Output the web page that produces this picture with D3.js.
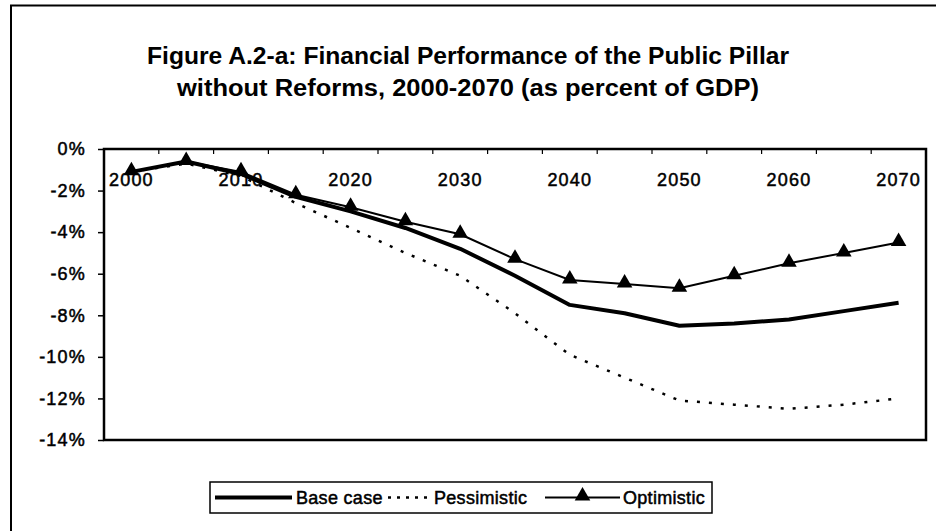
<!DOCTYPE html>
<html>
<head>
<meta charset="utf-8">
<script src="https://cdn.jsdelivr.net/npm/d3@7"></script>
<style>
  body { margin: 0; background: #fff; }
  svg { display: block; font-family: "Liberation Sans", Arial, sans-serif; }
</style>
</head>
<body>
<div id="chart"></div>
<script>
// data (percent of GDP)
const years = [2000, 2005, 2010, 2015, 2020, 2025, 2030, 2035, 2040, 2045, 2050, 2055, 2060, 2065, 2070];
const baseCase = [-1.1, -0.6, -1.2, -2.3, -3.0, -3.8, -4.8, -6.1, -7.5, -7.9, -8.5, -8.4, -8.2, -7.8, -7.4];
const pessimistic = [-1.1, -0.7, -1.3, -2.6, -3.8, -5.0, -6.1, -7.9, -9.9, -11.0, -12.1, -12.3, -12.5, -12.3, -12.0];
const optimistic = [-1.1, -0.6, -1.1, -2.2, -2.8, -3.5, -4.1, -5.3, -6.3, -6.5, -6.7, -6.1, -5.5, -5.0, -4.5];
const yTicks = [0, -2, -4, -6, -8, -10, -12, -14];
const xLabels = [2000, 2010, 2020, 2030, 2040, 2050, 2060, 2070];
const titleLines = [
  "Figure A.2-a: Financial Performance of the Public Pillar",
  "without Reforms, 2000-2070 (as percent of GDP)"
];
const legendNames = ["Base case", "Pessimistic", "Optimistic"];

const W = 936, H = 531;
const plot = {left: 104, top: 149, right: 926, bottom: 440};
const ink = "#000";

const svg = d3.select("#chart").append("svg")
  .attr("width", W).attr("height", H);

// outer frame (only top and left edges show in the scan)
svg.append("path")
  .attr("d", `M11,${H} V5.5 H${W}`)
  .attr("fill", "none").attr("stroke", ink).attr("stroke-width", 2);

// title
const titleWidths = [642, 582];
svg.selectAll("text.title")
  .data(titleLines)
  .enter().append("text")
  .attr("class", "title")
  .attr("x", 468)
  .attr("y", (d, i) => 64 + i * 32)
  .attr("text-anchor", "middle")
  .attr("font-size", 23)
  .attr("font-weight", "bold")
  .attr("textLength", (d, i) => titleWidths[i])
  .attr("lengthAdjust", "spacingAndGlyphs")
  .text(d => d);

const x = d3.scaleBand().domain(years).range([plot.left, plot.right]);
const y = d3.scaleLinear().domain([-14, 0]).range([plot.bottom, plot.top]);
const cx = d => x(d) + x.bandwidth() / 2;

function styleLabels(sel) {
  sel.attr("font-size", 18).attr("font-family", "Liberation Sans, Arial, sans-serif")
    .attr("letter-spacing", 1.2).attr("fill", ink)
    .attr("stroke", ink).attr("stroke-width", 0.5);
}

// y axis
const yAxis = svg.append("g")
  .attr("transform", `translate(${plot.left},0)`)
  .call(d3.axisLeft(y).tickValues(yTicks).tickSize(6).tickPadding(12)
    .tickFormat(d => d + "%"));
yAxis.select(".domain").remove();
yAxis.selectAll("line").attr("stroke-width", 1.5);
yAxis.selectAll("text").call(styleLabels);

// x axis sits on the 0% line, ticks between categories
const xAxis = svg.append("g")
  .attr("transform", `translate(0,${plot.top})`)
  .call(d3.axisBottom(x).tickSize(0).tickPadding(24)
    .tickFormat(d => xLabels.includes(d) ? d : ""));
xAxis.select(".domain").remove();
xAxis.selectAll("text").call(styleLabels);

svg.append("g").selectAll("line")
  .data(years.slice(1))
  .enter().append("line")
  .attr("x1", d => x(d)).attr("x2", d => x(d))
  .attr("y1", plot.top).attr("y2", plot.top + 5)
  .attr("stroke", ink).attr("stroke-width", 1.2);

// plot area border
svg.append("rect")
  .attr("x", plot.left).attr("y", plot.top)
  .attr("width", plot.right - plot.left).attr("height", plot.bottom - plot.top)
  .attr("fill", "none").attr("stroke", ink).attr("stroke-width", 2.5);

const line = d3.line().x((d, i) => cx(years[i])).y(d => y(d));

svg.append("path").datum(pessimistic)
  .attr("d", line).attr("fill", "none")
  .attr("stroke", ink).attr("stroke-width", 2.5)
  .attr("stroke-dasharray", "3,9");

svg.append("path").datum(baseCase)
  .attr("d", line).attr("fill", "none")
  .attr("stroke", ink).attr("stroke-width", 4)
  .attr("stroke-linejoin", "round");

svg.append("path").datum(optimistic)
  .attr("d", line).attr("fill", "none")
  .attr("stroke", ink).attr("stroke-width", 2);

const tri = d3.symbol().type(d3.symbolTriangle).size(105);
svg.append("g").selectAll("path")
  .data(optimistic)
  .enter().append("path")
  .attr("d", tri)
  .attr("transform", (d, i) => `translate(${cx(years[i])},${y(d) - 1})`)
  .attr("fill", ink);

// legend
const lg = svg.append("g").attr("transform", "translate(210,482)");
lg.append("rect")
  .attr("width", 502).attr("height", 31)
  .attr("fill", "#fff").attr("stroke", ink).attr("stroke-width", 1.5);

const items = [
  {name: legendNames[0], x0: 5, x1: 82, tx: 86, dash: null, w: 4, mark: false},
  {name: legendNames[1], x0: 178, x1: 220, tx: 224, dash: "3,6", w: 2.5, mark: false},
  {name: legendNames[2], x0: 335, x1: 410, tx: 413, dash: null, w: 2, mark: true}
];
items.forEach(it => {
  lg.append("line")
    .attr("x1", it.x0).attr("x2", it.x1).attr("y1", 15.5).attr("y2", 15.5)
    .attr("stroke", ink).attr("stroke-width", it.w)
    .attr("stroke-dasharray", it.dash);
  if (it.mark) {
    lg.append("path").attr("d", tri)
      .attr("transform", `translate(${(it.x0 + it.x1) / 2},14)`);
  }
  lg.append("text")
    .attr("x", it.tx).attr("y", 22)
    .attr("font-size", 18).attr("letter-spacing", 0.3)
    .attr("stroke", ink).attr("stroke-width", 0.5)
    .text(it.name);
});
</script>
</body>
</html>
